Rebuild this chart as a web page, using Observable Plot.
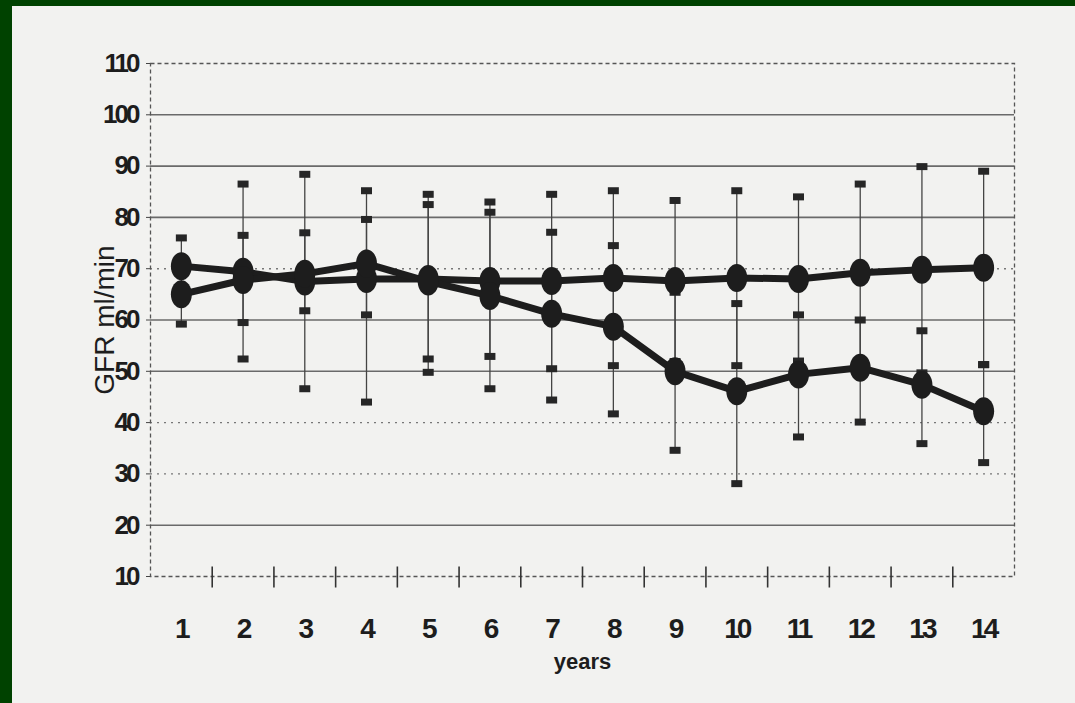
<!DOCTYPE html>
<html>
<head>
<meta charset="utf-8">
<script src="https://cdn.jsdelivr.net/npm/d3@7"></script>
<script src="https://cdn.jsdelivr.net/npm/@observablehq/plot@0.6"></script>
<style>
  html, body { margin: 0; padding: 0; }
  body { width: 1075px; height: 703px; overflow: hidden; background: #f2f2f0; position: relative; }
  #chart { position: absolute; left: 0; top: 0; z-index: 2; }
  .frame-l { position: absolute; left: 0; top: 0; width: 12px; height: 703px; background: #004200; z-index: 5; }
  .frame-t { position: absolute; left: 0; top: 0; width: 1075px; height: 6px; background: #004200; z-index: 5; }
  g[aria-label="y-axis tick label"] text { font-weight: bold; letter-spacing: -3px; }
  g[aria-label="x-axis tick label"] text { font-weight: bold; letter-spacing: -3px; }
</style>
</head>
<body>
<div id="chart"></div>
<div class="frame-l"></div>
<div class="frame-t"></div>
<script>
// ---- data ----
const years = [1, 2, 3, 4, 5, 6, 7, 8, 9, 10, 11, 12, 13, 14];
const stableGFR    = [70.5, 69.4, 67.5, 68, 68, 67.6, 67.6, 68.2, 67.6, 68.2, 68, 69.2, 69.8, 70.2];
const stableLow    = [59.2, 52.4, 46.6, 44, 49.8, 52.9, 50.5, 51.1, 51.9, 51.1, 52, 51.9, 49.7, 51.3];
const stableHigh   = [76, 86.5, 88.4, 85.2, 84.5, 83, 84.5, 85.2, 83.3, 85.2, 84, 86.5, 89.9, 89];
const decliningGFR  = [65, 67.8, 69, 71, 67.5, 64.7, 61.2, 58.7, 50, 46.1, 49.4, 50.7, 47.4, 42.2];
const decliningLow  = [null, 59.5, 61.8, 61, 52.4, 46.6, 44.4, 41.7, 34.6, 28.1, 37.2, 40.1, 35.9, 32.2];
const decliningHigh = [null, 76.5, 77, 79.6, 82.5, 81, 77.1, 74.5, 65.4, 63.2, 61, 60, 57.9, 51.3];
const yTicks = [10, 20, 30, 40, 50, 60, 70, 80, 90, 100, 110];
const solidGrid = [20, 50, 60, 80, 90, 100];
const dottedGrid = [30, 40, 70];
const yLabel = "GFR ml/min";
const xLabel = "years";

// ---- tables built from the arrays ----
const series = [
  {name: "stable", gfr: stableGFR, lo: stableLow, hi: stableHigh},
  {name: "declining", gfr: decliningGFR, lo: decliningLow, hi: decliningHigh}
];
const rows = years.flatMap((year, i) => series.map(s => ({series: s.name, year, gfr: s.gfr[i], lo: s.lo[i], hi: s.hi[i]})));
const bars = rows.filter(d => d.lo != null);
const caps = bars.flatMap(d => [{year: d.year, v: d.lo}, {year: d.year, v: d.hi}]);
const boundaries = years.slice(0, -1).map(y => y + 0.5);
const xDomain = [years[0] - 0.5, years[years.length - 1] + 0.5];
const yDomain = [yTicks[0], yTicks[yTicks.length - 1]];

// ---- custom symbols ----
const ellipse = {draw(ctx) {
  const rx = 10.5, ry = 14, k = 0.5523;
  ctx.moveTo(rx, 0);
  ctx.bezierCurveTo(rx, k * ry, k * rx, ry, 0, ry);
  ctx.bezierCurveTo(-k * rx, ry, -rx, k * ry, -rx, 0);
  ctx.bezierCurveTo(-rx, -k * ry, -k * rx, -ry, 0, -ry);
  ctx.bezierCurveTo(k * rx, -ry, rx, -k * ry, rx, 0);
  ctx.closePath();
}};
const capSymbol = {draw(ctx) { ctx.rect(-5.5, -3.5, 11, 7); }};
const vTick = {draw(ctx) { ctx.moveTo(0, -10); ctx.lineTo(0, 11); }};

const font = '"Liberation Sans", Arial, sans-serif';
const ink = "#1d1d1d";

const chart = Plot.plot({
  width: 1075,
  height: 703,
  marginLeft: 150,
  marginRight: 61,
  marginTop: 63,
  marginBottom: 127,
  style: {background: "transparent", fontFamily: font, color: ink, overflow: "visible"},
  x: {domain: xDomain},
  y: {domain: yDomain},
  marks: [
    Plot.ruleY(solidGrid, {stroke: "#6a6a6a", strokeWidth: 1.6}),
    Plot.ruleY(dottedGrid, {stroke: "#777", strokeWidth: 1.4, strokeDasharray: "2,5"}),
    Plot.frame({stroke: "#555", strokeWidth: 1.3, strokeDasharray: "4,3"}),
    Plot.dot(boundaries, {x: d => d, y: () => yDomain[0], symbol: vTick, stroke: "#333", fill: "none", strokeWidth: 1.6}),
    Plot.ruleX(bars, {x: "year", y1: "lo", y2: "hi", stroke: "#444", strokeWidth: 1.3}),
    Plot.dot(caps, {x: "year", y: "v", symbol: capSymbol, fill: "#262626", stroke: "none"}),
    Plot.line(rows, {x: "year", y: "gfr", z: "series", stroke: ink, strokeWidth: 7, strokeLinejoin: "round", strokeLinecap: "round"}),
    Plot.dot(rows, {x: "year", y: "gfr", symbol: ellipse, fill: ink, stroke: "none"}),
    Plot.axisY({ticks: yTicks, tickSize: 4, tickPadding: 9, fontSize: 26, label: null, stroke: "#444"}),
    Plot.axisX({ticks: years, tickSize: 0, tickPadding: 42, fontSize: 28, label: null}),
    Plot.text([yLabel], {text: d => d, frameAnchor: "left", textAnchor: "middle", dx: -45, rotate: -90, fontSize: 28, fill: ink, style: "letter-spacing:2.5px"}),
    Plot.text([xLabel], {text: d => d, frameAnchor: "bottom", dy: 92, fontSize: 22, fontWeight: "bold", fill: ink})
  ]
});
document.getElementById("chart").appendChild(chart);
</script>
</body>
</html>
